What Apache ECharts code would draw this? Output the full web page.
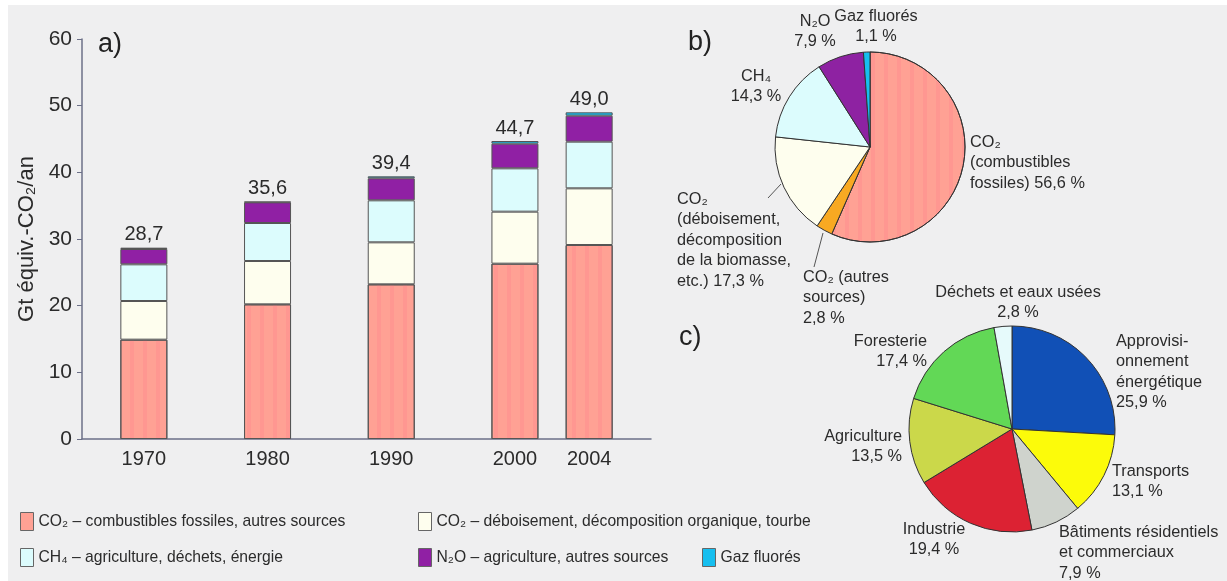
<!DOCTYPE html>
<html>
<head>
<meta charset="utf-8">
<script src="https://cdn.jsdelivr.net/npm/echarts@6/dist/echarts.min.js"></script>
<style>
  html, body { margin: 0; padding: 0; background: #fff; }
  #chart { width: 1227px; height: 581px; }
</style>
</head>
<body>
<div id="chart"></div>
<script>
// a) émissions par gaz, Gt équiv.-CO2/an
const years = ['1970', '1980', '1990', '2000', '2004'];
const co2Fossil = [14.9, 20.2, 23.2, 26.3, 29.1];
const co2Deforest = [5.8, 6.5, 6.3, 7.8, 8.5];
const ch4 = [5.5, 5.7, 6.3, 6.5, 7.0];
const n2o = [2.3, 3.1, 3.3, 3.7, 3.9];
const fGases = [0.2, 0.1, 0.3, 0.4, 0.5];
const totals = [28.7, 35.6, 39.4, 44.7, 49.0];
const yTicks = [0, 10, 20, 30, 40, 50, 60];

// b) part de chaque gaz en 2004 (%)
const gasNames = ['CO₂ fossiles', 'CO₂ autres', 'CO₂ déboisement', 'CH₄', 'N₂O', 'Gaz fluorés'];
const gasShares = [56.6, 2.8, 17.3, 14.3, 7.9, 1.1];
const gasLabels = [
  'CO₂\n(combustibles\nfossiles) 56,6 %',
  'CO₂ (autres\nsources)\n2,8 %',
  'CO₂\n(déboisement,\ndécomposition\nde la biomasse,\netc.) 17,3 %',
  'CH₄\n14,3 %',
  'N₂O\n7,9 %',
  'Gaz fluorés\n1,1 %'
];

// c) part de chaque secteur en 2004 (%)
const sectorNames = ['Approvisionnement énergétique', 'Transports', 'Bâtiments résidentiels et commerciaux',
  'Industrie', 'Agriculture', 'Foresterie', 'Déchets et eaux usées'];
const sectorShares = [25.9, 13.1, 7.9, 19.4, 13.5, 17.4, 2.8];
const sectorLabels = [
  'Approvisi-\nonnement\nénergétique\n25,9 %',
  'Transports\n13,1 %',
  'Bâtiments résidentiels\net commerciaux\n7,9 %',
  'Industrie\n19,4 %',
  'Agriculture\n13,5 %',
  'Foresterie\n17,4 %',
  'Déchets et eaux usées\n2,8 %'
];

// les années ne sont pas régulièrement espacées sur le graphique
const slotOfYear = [2, 7, 12, 17, 20];
const slotCount = 23;
const slots = Array(slotCount).fill('');
years.forEach((y, i) => { slots[slotOfYear[i]] = y; });
function spread(values) {
  const out = Array(slotCount).fill(null);
  values.forEach((v, i) => { out[slotOfYear[i]] = v; });
  return out;
}

const font = "'Liberation Sans', Arial, sans-serif";
const txt = '#2b2b2b';

// fines rayures verticales du rose
const stripes = {
  symbol: 'rect', symbolSize: 1,
  dashArrayX: [4, 9], dashArrayY: [20, 0],
  rotation: 0, color: 'rgba(255, 125, 140, 0.28)'
};

const barColors = ['#ffa194', '#fefeee', '#dcfcfd', '#9020a4', '#16bff0'];
const barSeries = [
  {name: 'fossil', data: co2Fossil},
  {name: 'deforest', data: co2Deforest},
  {name: 'ch4', data: ch4},
  {name: 'n2o', data: n2o},
  {name: 'fgas', data: fGases}
].map((s, i) => ({
  name: s.name,
  type: 'bar',
  stack: 'total',
  barWidth: 47,
  data: spread(s.data),
  itemStyle: Object.assign({color: barColors[i], borderColor: '#555', borderWidth: 1},
    i === 0 ? {decal: stripes} : {}),
  label: i === 4 ? {
    show: true,
    position: 'top',
    distance: 3,
    fontSize: 20,
    fontFamily: font,
    color: txt,
    formatter: p => totals[years.indexOf(p.name)].toFixed(1).replace('.', ',')
  } : {show: false}
}));

const legendText = {
  fossil: 'CO₂ – combustibles fossiles, autres sources',
  deforest: 'CO₂ – déboisement, décomposition organique, tourbe',
  ch4: 'CH₄ – agriculture, déchets, énergie',
  n2o: 'N₂O – agriculture, autres sources',
  fgas: 'Gaz fluorés'
};
function legendAt(name, left, top) {
  return {
    data: [name], left: left, top: top, padding: 0,
    icon: 'rect', itemWidth: 13, itemHeight: 18, itemGap: 6,
    selectedMode: false,
    itemStyle: {borderColor: '#666', borderWidth: 1, decal: 'none'},
    formatter: n => legendText[n],
    textStyle: {fontSize: 15.7, fontFamily: font, color: txt}
  };
}

// label placement for the pies
const gasLabelPos = [
  {x: 970, y: 132, align: 'left'},
  {x: 803, y: 267, align: 'left', line: [[814, 267], [823, 233]]},
  {x: 677, y: 189, align: 'left', line: [[768, 198], [781, 184]]},
  {x: 756, y: 66, align: 'center'},
  {x: 815, y: 11, align: 'center'},
  {x: 876, y: 6, align: 'center'}
];
const sectorLabelPos = [
  {x: 1116, y: 331, align: 'left'},
  {x: 1112, y: 461, align: 'left'},
  {x: 1059, y: 522, align: 'left'},
  {x: 934, y: 519, align: 'center'},
  {x: 902, y: 426, align: 'right'},
  {x: 927, y: 331, align: 'right'},
  {x: 1018, y: 282, align: 'center'}
];
function layoutFrom(pos) {
  return function (params) {
    const p = pos[params.dataIndex];
    const out = {x: p.x, y: p.y, align: p.align, verticalAlign: 'top'};
    if (p.line) out.labelLinePoints = [p.line[0], p.line[1], p.line[1]];
    return out;
  };
}

const gasColors = ['#ffa194', '#f8a922', '#fefeee', '#dcfcfd', '#8e22a2', '#16bff0'];
const sectorColors = ['#1150b6', '#fcfb0a', '#cfd3cd', '#dc2233', '#cbd84a', '#62d856', '#e6fafb'];

const pieLabel = {
  show: true,
  position: 'outside',
  overflow: 'none',
  fontSize: 16.3,
  lineHeight: 20.5,
  fontFamily: font,
  color: txt
};

const chart = echarts.init(document.getElementById('chart'));
chart.setOption({
  backgroundColor: '#fff',
  animation: false,
  textStyle: {fontFamily: font},
  graphic: [{
    type: 'rect', left: 8, top: 5, z: -100, silent: true,
    shape: {width: 1219, height: 576},
    style: {fill: '#efeff0'}
  }],
  title: [
    {text: 'a)', left: 98, top: 31, padding: 0, textStyle: {fontSize: 27, fontWeight: 'normal', color: '#222', fontFamily: font}},
    {text: 'b)', left: 688, top: 29, padding: 0, textStyle: {fontSize: 27, fontWeight: 'normal', color: '#222', fontFamily: font}},
    {text: 'c)', left: 679, top: 324, padding: 0, textStyle: {fontSize: 27, fontWeight: 'normal', color: '#222', fontFamily: font}}
  ],
  legend: [
    legendAt('fossil', 20, 512),
    legendAt('deforest', 418, 512),
    legendAt('ch4', 20, 548),
    legendAt('n2o', 418, 548),
    legendAt('fgas', 702, 548)
  ],
  grid: {left: 82, top: 39, width: 569, height: 400},
  xAxis: {
    type: 'category',
    data: slots,
    axisLine: {lineStyle: {color: '#6c7088', width: 1.5}},
    axisTick: {show: false},
    axisLabel: {interval: 0, fontSize: 20, color: txt, margin: 10, fontFamily: font}
  },
  yAxis: {
    type: 'value',
    min: yTicks[0],
    max: yTicks[yTicks.length - 1],
    interval: 10,
    name: 'Gt équiv.-CO₂/an',
    nameLocation: 'middle',
    nameGap: 44,
    nameTextStyle: {fontSize: 22, color: txt, fontFamily: font},
    axisLine: {show: true, lineStyle: {color: '#6c7088', width: 1.5}},
    axisTick: {show: true, length: 5, lineStyle: {color: '#6c7088'}},
    splitLine: {show: false},
    axisLabel: {fontSize: 21, color: txt, margin: 10, fontFamily: font}
  },
  series: barSeries.concat([
    {
      name: 'gaz 2004',
      type: 'pie',
      center: [870, 147],
      radius: 95,
      startAngle: 90,
      clockwise: true,
      itemStyle: {borderColor: '#333', borderWidth: 1},
      label: Object.assign({}, pieLabel, {formatter: p => gasLabels[p.dataIndex]}),
      labelLine: {show: false},
      labelLayout: layoutFrom(gasLabelPos),
      emphasis: {disabled: true},
      data: gasNames.map((n, i) => ({
        name: n,
        value: gasShares[i],
        itemStyle: Object.assign({color: gasColors[i]}, i === 0 ? {decal: stripes} : {}),
        labelLine: gasLabelPos[i].line ? {show: true, lineStyle: {color: '#555', width: 1}} : {show: false}
      }))
    },
    {
      name: 'secteurs 2004',
      type: 'pie',
      center: [1012, 429],
      radius: 103,
      startAngle: 90,
      clockwise: true,
      itemStyle: {borderColor: '#333', borderWidth: 1},
      label: Object.assign({}, pieLabel, {formatter: p => sectorLabels[p.dataIndex]}),
      labelLine: {show: false},
      labelLayout: layoutFrom(sectorLabelPos),
      emphasis: {disabled: true},
      data: sectorNames.map((n, i) => ({
        name: n,
        value: sectorShares[i],
        itemStyle: {color: sectorColors[i]}
      }))
    }
  ])
});
</script>
</body>
</html>
